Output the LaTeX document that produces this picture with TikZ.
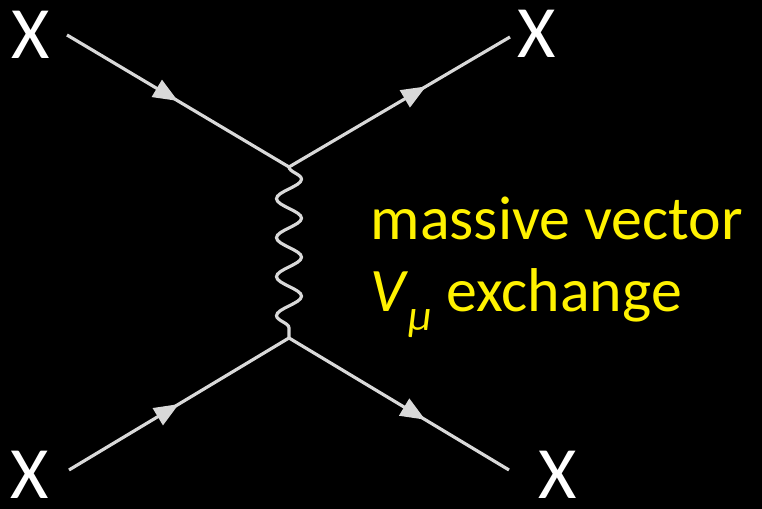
\documentclass[tikz,border=0pt]{standalone}
\usepackage{fontspec}
\setmainfont{Carlito}
\usetikzlibrary{arrows.meta,decorations.markings,decorations.pathmorphing}
\tikzset{
  figlines/.style={line width=0.9pt, draw=white!85!black},
  fin/.style={figlines, postaction={decorate}, decoration={markings,
    mark=at position 0.5 with {\arrow{Triangle[length=7pt,width=5.5pt]}}}},
  fout/.style={figlines, postaction={decorate}, decoration={markings,
    mark=at position 0.62 with {\arrow{Triangle[length=7pt,width=5.5pt]}}}},
  bos/.style={figlines, decorate, decoration={snake, segment length=3.9mm, amplitude=1.25mm}},
  xno/.style={text=white, inner sep=0pt, font=\fontsize{21}{21}\selectfont},
  lbl/.style={text=yellow, inner sep=0pt, anchor=base west, font=\fontsize{17.6}{20}\selectfont},
}
\begin{document}
\begin{tikzpicture}
\fill[black] (0,0) rectangle (7.62,5.09);
\useasboundingbox (0,0) rectangle (7.62,5.09);
\node[xno] (xtl) at (0.31,4.74) {X};
\node[xno] (xtr) at (5.37,4.75) {X};
\node[xno] (xbl) at (0.30,0.34) {X};
\node[xno] (xbr) at (5.58,0.34) {X};
\coordinate (intl) at (0.67,4.74);
\coordinate (outtr) at (5.10,4.72);
\coordinate (inbl) at (0.69,0.39);
\coordinate (outbr) at (5.09,0.39);
\coordinate (vtop) at (2.89,3.42);
\coordinate (vbot) at (2.89,1.71);
\draw[fin] (intl) -- (vtop);
\draw[fout] (vtop) -- (outtr);
\draw[fin] (inbl) -- (vbot);
\draw[fout] (vbot) -- (outbr);
\draw[bos] (vtop) -- (vbot);
\node[lbl] (txtmv) at (3.70,2.69) {massive vector};
\node[lbl] (txtex) at (3.70,1.97) {\textit{V}\raisebox{-0.3em}{\fontsize{12.5}{12.5}\selectfont\textit{μ}} exchange};
\end{tikzpicture}
\end{document}
